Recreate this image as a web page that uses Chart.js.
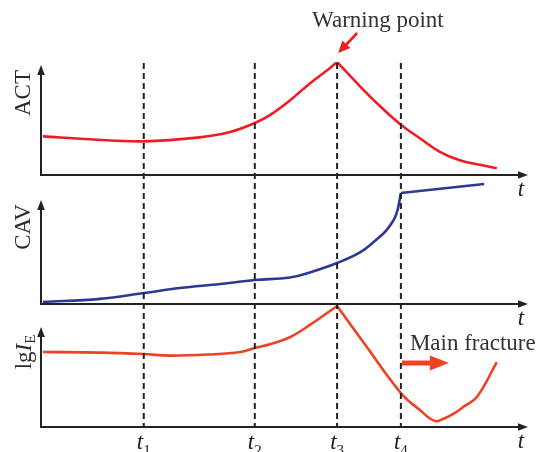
<!DOCTYPE html>
<html lang="en">

<head>
    <meta charset="UTF-8">
    <title>ACT / CAV / lgIE</title>
    <script src="https://cdn.jsdelivr.net/npm/chart.js"></script>
    <style>
        html, body { margin: 0; padding: 0; background: #fff; }
        #wrap { width: 540px; height: 452px; }
    </style>
</head>

<body>
    <div id="wrap">
        <canvas id="grafico" width="540" height="452"></canvas>
    </div>
</body>
<script>
    // marker times t1..t4
    const markTimes = [2.11, 4.39, 6.08, 7.39];
    const markNames = ['1', '2', '3', '4'];

    // ACT curve
    const actTime = [0.04, 1.01, 2.11, 3.26, 3.88, 4.39, 4.70, 5.11, 5.52, 5.93, 6.08, 6.55, 6.96, 7.39, 7.78, 8.19, 8.60, 9.01, 9.36];
    const actValues = [3.42, 3.16, 2.98, 3.33, 3.8, 4.6, 5.3, 6.6, 8.1, 9.45, 10, 7.85, 6.1, 4.45, 3.25, 2.05, 1.3, 0.9, 0.6];

    // CAV curve
    const cavTime = [0.04, 1.21, 2.11, 2.85, 3.68, 4.39, 5.11, 5.52, 6.08, 6.55, 6.86, 7.10, 7.29, 7.39, 9.10];
    const cavValues = [0.15, 0.4, 0.85, 1.24, 1.55, 1.86, 2.05, 2.45, 3.18, 4.0, 4.9, 5.75, 6.9, 8.6, 9.3];

    // lg IE curve
    const lgeTime = [0.04, 1.21, 2.11, 2.65, 3.47, 4.09, 4.39, 4.70, 5.11, 5.52, 6.08, 6.69, 7.39, 7.78, 8.09, 8.30, 8.50, 8.67, 8.95, 9.36];
    const lgeValues = [6.1, 6.05, 5.93, 5.8, 5.9, 6.1, 6.42, 6.72, 7.3, 8.3, 9.84, 6.5, 2.76, 1.38, 0.49, 0.73, 1.14, 1.63, 2.44, 5.28];

    const corRed = '#ee1c25';
    const corBlue = '#2b3990';
    const corOrange = '#ef4123';
    const corInk = '#222';

    // cut a curve into pieces at sharp corners so each piece stays smooth
    function pedacos(xs, ys, cortes) {
        const out = [];
        let atual = [];
        xs.forEach((x, i) => {
            atual.push({ x: x, y: ys[i] });
            if (cortes.includes(x) && atual.length > 1) {
                out.push(atual);
                atual = [{ x: x, y: ys[i] }];
            }
        });
        if (atual.length > 1) out.push(atual);
        return out;
    }

    const datasets = [];
    function addCurve(xs, ys, cortes, eixo, cor) {
        pedacos(xs, ys, cortes).forEach(p => {
            datasets.push({
                data: p,
                yAxisID: eixo,
                borderColor: cor,
                borderWidth: 2.6,
                pointRadius: 0,
                fill: false,
                tension: 0.4
            });
        });
    }
    addCurve(actTime, actValues, [6.08], 'yAct', corRed);
    addCurve(cavTime, cavValues, [7.39], 'yCav', corBlue);
    addCurve(lgeTime, lgeValues, [6.08], 'yLge', corOrange);

    function eixoY(peso, ordem) {
        return {
            type: 'linear', position: 'left', stack: 'paineis',
            stackWeight: peso, weight: ordem, min: 0, max: 10,
            ticks: { display: false },
            grid: { display: false, drawTicks: false },
            border: { display: false },
            afterFit: s => { s.width = 0; }
        };
    }

    function seta(ctx, x0, y0, x1, y1, comp, larg) {
        const a = Math.atan2(y1 - y0, x1 - x0);
        ctx.save();
        ctx.translate(x1, y1);
        ctx.rotate(a);
        ctx.beginPath();
        ctx.moveTo(0, 0);
        ctx.lineTo(-comp, -larg);
        ctx.lineTo(-comp, larg);
        ctx.closePath();
        ctx.fill();
        ctx.restore();
    }

    const desenho = {
        id: 'desenho',
        afterDraw(chart) {
            const ctx = chart.ctx;
            const sx = chart.scales.x;
            const area = chart.chartArea;
            const x0 = sx.getPixelForValue(0);
            const xEnd = sx.getPixelForValue(10);
            const paineis = [chart.scales.yAct, chart.scales.yCav, chart.scales.yLge];
            const topos = [3, 25, 23];

            ctx.save();
            // axes with arrow heads
            ctx.strokeStyle = corInk;
            ctx.fillStyle = corInk;
            ctx.lineWidth = 2;
            paineis.forEach((s, i) => {
                const base = s.getPixelForValue(0);
                const topo = s.top + topos[i];
                ctx.beginPath();
                ctx.moveTo(x0, topo + 6);
                ctx.lineTo(x0, base);
                ctx.lineTo(xEnd - 6, base);
                ctx.stroke();
                seta(ctx, x0, base, x0, topo, 10, 3.8);
                seta(ctx, x0, base, xEnd, base, 10, 3.8);

                ctx.font = 'italic 23px "Liberation Serif"';
                ctx.textAlign = 'center';
                ctx.textBaseline = 'alphabetic';
                ctx.fillText('t', xEnd - 7, base + 21);
            });

            // dashed markers
            ctx.setLineDash([6, 4]);
            ctx.lineWidth = 2;
            markTimes.forEach(t => {
                const px = sx.getPixelForValue(t);
                ctx.beginPath();
                ctx.moveTo(px, area.top + 1);
                ctx.lineTo(px, area.bottom);
                ctx.stroke();
            });
            ctx.setLineDash([]);

            // t1..t4 under the bottom axis
            markTimes.forEach((t, i) => {
                const px = sx.getPixelForValue(t);
                ctx.font = 'italic 23px "Liberation Serif"';
                const w1 = ctx.measureText('t').width;
                ctx.font = '15px "Liberation Serif"';
                const w2 = ctx.measureText(markNames[i]).width;
                const ini = px - (w1 + w2) / 2;
                ctx.textAlign = 'left';
                ctx.font = 'italic 23px "Liberation Serif"';
                ctx.fillText('t', ini, area.bottom + 22);
                ctx.font = '15px "Liberation Serif"';
                ctx.fillText(markNames[i], ini + w1, area.bottom + 28);
            });

            // axis titles
            ctx.fillStyle = '#2b2b2b';
            const titulo = (txt, cy) => {
                ctx.save();
                ctx.translate(30, cy);
                ctx.rotate(-Math.PI / 2);
                ctx.font = '23px "Liberation Serif"';
                ctx.textAlign = 'center';
                ctx.fillText(txt, 0, 0);
                ctx.restore();
            };
            titulo('ACT', (paineis[0].top + topos[0] + paineis[0].bottom) / 2 - 27);
            titulo('CAV', (paineis[1].top + topos[1] + paineis[1].bottom) / 2 - 25);

            // lg I_E
            ctx.save();
            ctx.translate(31, (paineis[2].top + topos[2] + paineis[2].bottom) / 2 - 25);
            ctx.rotate(-Math.PI / 2);
            ctx.textAlign = 'left';
            ctx.font = '23px "Liberation Serif"';
            const wLg = ctx.measureText('lg').width;
            ctx.font = 'italic 23px "Liberation Serif"';
            const wI = ctx.measureText('I').width;
            ctx.font = '15px "Liberation Serif"';
            const wE = ctx.measureText('E').width;
            let px = -(wLg + wI + wE) / 2;
            ctx.font = '23px "Liberation Serif"';
            ctx.fillText('lg', px, 0);
            px += wLg;
            ctx.font = 'italic 23px "Liberation Serif"';
            ctx.fillText('I', px, 0);
            px += wI;
            ctx.font = '15px "Liberation Serif"';
            ctx.fillText('E', px, 4);
            ctx.restore();

            // warning point callout at the ACT peak
            const picoX = sx.getPixelForValue(6.08);
            const picoY = paineis[0].getPixelForValue(10);
            ctx.strokeStyle = corRed;
            ctx.fillStyle = corRed;
            ctx.lineWidth = 2.6;
            ctx.beginPath();
            ctx.moveTo(picoX + 20, picoY - 29);
            ctx.lineTo(picoX + 6, picoY - 14);
            ctx.stroke();
            seta(ctx, picoX + 20, picoY - 29, picoX + 1, picoY - 9, 12, 5.5);
            ctx.fillStyle = '#333';
            ctx.font = '23px "Liberation Serif"';
            ctx.textAlign = 'left';
            ctx.fillText('Warning point', picoX - 25, picoY - 35);

            // main fracture note after t4
            const fx = sx.getPixelForValue(7.39);
            const fy = paineis[2].getPixelForValue(5.2);
            ctx.fillStyle = '#333';
            ctx.fillText('Main fracture', fx + 9, paineis[2].getPixelForValue(6.26));
            ctx.fillStyle = corOrange;
            ctx.fillRect(fx + 1, fy - 2.5, 29, 5);
            seta(ctx, fx, fy, fx + 48, fy, 19, 7.5);
            ctx.restore();
        }
    };

    new Chart(document.getElementById('grafico').getContext('2d'), {
        type: 'line',
        data: { datasets: datasets },
        options: {
            responsive: false,
            animation: false,
            layout: { padding: { left: 41, right: 12, top: 62, bottom: 25 } },
            plugins: { legend: { display: false }, tooltip: { enabled: false } },
            scales: {
                x: { type: 'linear', min: 0, max: 10, display: false },
                yAct: eixoY(113, 3),
                yCav: eixoY(129, 2),
                yLge: eixoY(123, 1)
            }
        },
        plugins: [desenho]
    });
</script>

</html>
